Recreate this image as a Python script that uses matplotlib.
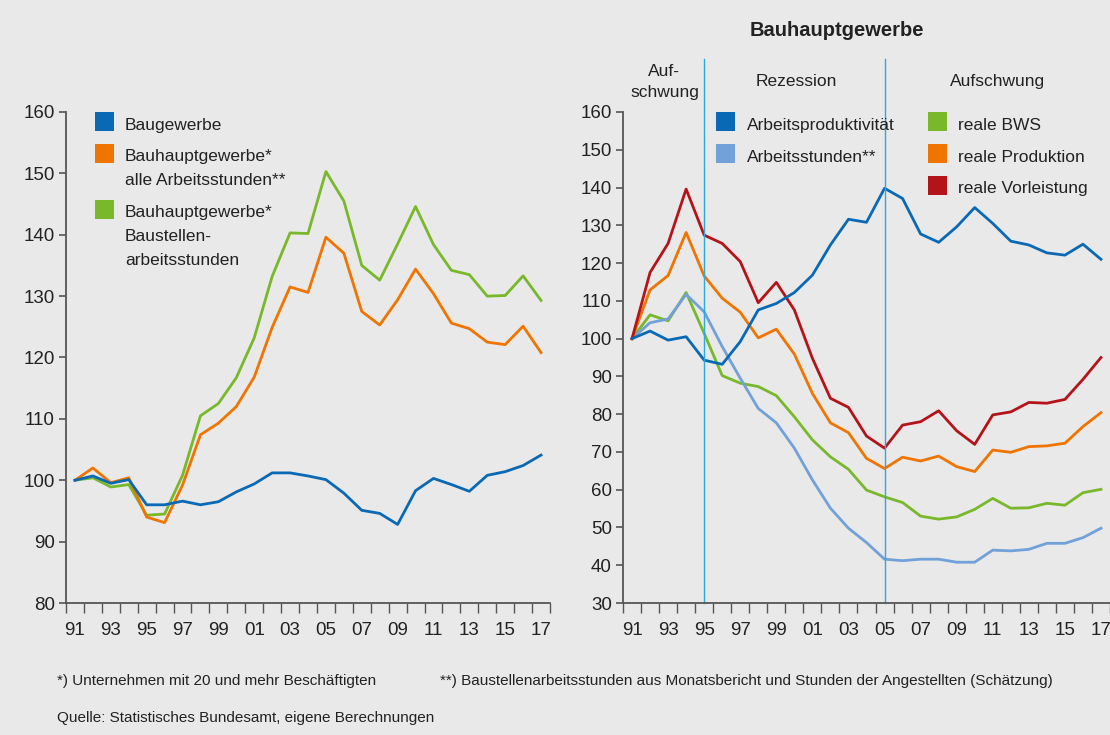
import numpy as np
import matplotlib
matplotlib.use('Agg')
import matplotlib.pyplot as plt
from matplotlib.patches import Rectangle

plt.rcParams['font.family'] = ['Liberation Sans', 'DejaVu Sans']

years = np.arange(1991, 2018)
year_labels = ['91', '93', '95', '97', '99', '01', '03', '05', '07', '09', '11', '13', '15', '17']

# left panel
baugewerbe = [100.0, 100.7, 99.5, 100.1, 96.0, 96.0, 96.6, 96.0, 96.5, 98.1, 99.4, 101.2, 101.2,
              100.7, 100.1, 97.9, 95.1, 94.6, 92.8, 98.3, 100.3, 99.3, 98.2, 100.8, 101.4, 102.4, 104.1]
bhg_alle = [100.0, 102.0, 99.6, 100.4, 94.0, 93.1, 99.2, 107.4, 109.3, 112.0, 116.8, 124.9, 131.5,
            130.6, 139.6, 137.0, 127.5, 125.3, 129.4, 134.4, 130.4, 125.6, 124.7, 122.5, 122.1, 125.1, 120.8]
bhg_baustelle = [100.0, 100.4, 98.9, 99.3, 94.3, 94.5, 100.8, 110.5, 112.5, 116.7, 123.2, 133.2, 140.3,
                 140.2, 150.3, 145.5, 135.0, 132.6, 138.5, 144.6, 138.4, 134.2, 133.5, 130.0, 130.1, 133.3, 129.3]

# right panel
produktivitaet = [100.0, 102.0, 99.6, 100.5, 94.3, 93.2, 99.2, 107.6, 109.3, 112.2, 116.8, 124.8, 131.6,
                  130.8, 139.8, 137.1, 127.7, 125.5, 129.6, 134.7, 130.5, 125.8, 124.8, 122.7, 122.1, 125.0, 121.0]
stunden = [100.0, 104.2, 105.2, 111.7, 107.1, 97.9, 89.5, 81.5, 77.7, 71.0, 62.6, 55.1, 49.8,
           46.0, 41.6, 41.2, 41.6, 41.6, 40.8, 40.8, 44.0, 43.8, 44.2, 45.8, 45.8, 47.3, 49.8]
bws = [100.0, 106.3, 104.7, 112.2, 101.4, 90.2, 88.2, 87.3, 84.9, 79.3, 73.2, 68.7, 65.4,
       59.9, 58.1, 56.6, 53.0, 52.2, 52.8, 54.8, 57.7, 55.1, 55.2, 56.4, 55.9, 59.2, 60.1]
produktion = [100.0, 112.9, 116.7, 128.1, 116.6, 110.7, 107.0, 100.2, 102.5, 95.9, 85.5, 77.7, 75.1,
              68.3, 65.6, 68.6, 67.6, 68.9, 66.1, 64.8, 70.5, 69.9, 71.4, 71.6, 72.3, 76.7, 80.4]
vorleistung = [100.0, 117.5, 125.2, 139.6, 127.4, 125.2, 120.4, 109.5, 114.9, 107.6, 94.8, 84.2, 81.8,
               74.2, 71.0, 77.1, 78.0, 80.9, 75.6, 72.0, 79.8, 80.6, 83.1, 82.9, 83.9, 89.2, 95.0]

c_blue = '#0a69b4'
c_orange = '#ef7400'
c_green = '#78b82a'
c_lblue = '#71a1d8'
c_red = '#b3141a'
bg = '#e9e9e9'
txt = '#222222'
spine = '#555555'

W, H = 1110, 735
fig = plt.figure(figsize=(W / 100, H / 100), dpi=100, facecolor=bg)


def fx(px):
    return px / W


def fy(py):
    return 1 - py / H


def style_axes(ax, ymin, ymax, step):
    ax.set_facecolor(bg)
    ax.set_xlim(1990.5, 2017.5)
    ax.set_ylim(ymin, ymax)
    for s in ['top', 'right']:
        ax.spines[s].set_visible(False)
    for s in ['left', 'bottom']:
        ax.spines[s].set_color(spine)
        ax.spines[s].set_linewidth(1.3)
    ax.set_yticks(np.arange(ymin, ymax + 1, step))
    ax.tick_params(axis='y', length=5, width=1.2, color=spine, labelsize=13.5, labelcolor=txt, pad=3)
    # ticks between the years, labels on odd years
    ax.set_xticks(np.arange(1990.5, 2018, 1))
    ax.set_xticklabels([])
    ax.set_xticks(years[::2], minor=True)
    ax.set_xticklabels(year_labels, minor=True)
    ax.tick_params(axis='x', which='major', length=7, width=1.0, color=spine)
    ax.tick_params(axis='x', which='minor', length=0, labelsize=13.5, labelcolor=txt, pad=14)


lw = 2.0

ax1 = fig.add_axes([fx(66), fy(603), fx(484), (603 - 112) / H])
style_axes(ax1, 80, 160, 10)
ax1.plot(years, bhg_baustelle, color=c_green, lw=lw)
ax1.plot(years, bhg_alle, color=c_orange, lw=lw)
ax1.plot(years, baugewerbe, color=c_blue, lw=lw)

ax2 = fig.add_axes([fx(623), fy(603), fx(487), (603 - 112) / H])
style_axes(ax2, 30, 160, 10)
ax2.plot(years, bws, color=c_green, lw=lw)
ax2.plot(years, stunden, color=c_lblue, lw=lw)
ax2.plot(years, produktion, color=c_orange, lw=lw)
ax2.plot(years, vorleistung, color=c_red, lw=lw)
ax2.plot(years, produktivitaet, color=c_blue, lw=lw)
for xv in [1995, 2005]:
    ax2.axvline(xv, ymin=0, ymax=(603 - 59) / 491, color='#2aaae2', lw=1.0, clip_on=False)


def square(px, py, color):
    fig.patches.append(Rectangle((fx(px), fy(py + 19)), fx(19), 19 / H,
                                 transform=fig.transFigure, facecolor=color, edgecolor='none'))


def label(px, py, s, size=12.5, **kw):
    fig.text(fx(px), fy(py), s, fontsize=size, color=txt, va='baseline', **kw)


# left legend
square(95, 112, c_blue)
label(125, 130, 'Baugewerbe')
square(95, 144, c_orange)
label(125, 161, 'Bauhauptgewerbe*')
label(125, 185, 'alle Arbeitsstunden**')
square(95, 200, c_green)
label(125, 217, 'Bauhauptgewerbe*')
label(125, 241, 'Baustellen-')
label(125, 265, 'arbeitsstunden')

# right legend
square(716, 112, c_blue)
label(747, 130, 'Arbeitsproduktivität')
square(716, 144, c_lblue)
label(747, 162, 'Arbeitsstunden**')
square(928, 112, c_green)
label(958, 130, 'reale BWS')
square(928, 144, c_orange)
label(958, 162, 'reale Produktion')
square(928, 176, c_red)
label(958, 193, 'reale Vorleistung')

# phases and title
fig.text(fx(837), fy(36), 'Bauhauptgewerbe', fontsize=14.5, fontweight='bold', color=txt,
         ha='center', va='baseline')
label(664, 76, 'Auf-', ha='center')
label(665, 97, 'schwung', ha='center')
label(796, 86, 'Rezession', ha='center')
label(998, 86, 'Aufschwung', ha='center')

# footnotes
fig.text(fx(57), fy(685), '*) Unternehmen mit 20 und mehr Beschäftigten', fontsize=11, color=txt)
fig.text(fx(440), fy(685), '**) Baustellenarbeitsstunden aus Monatsbericht und Stunden der Angestellten (Schätzung)',
         fontsize=11, color=txt)
fig.text(fx(57), fy(722), 'Quelle: Statistisches Bundesamt, eigene Berechnungen', fontsize=11, color=txt)

fig.savefig('out.png', dpi=100, facecolor=bg)
